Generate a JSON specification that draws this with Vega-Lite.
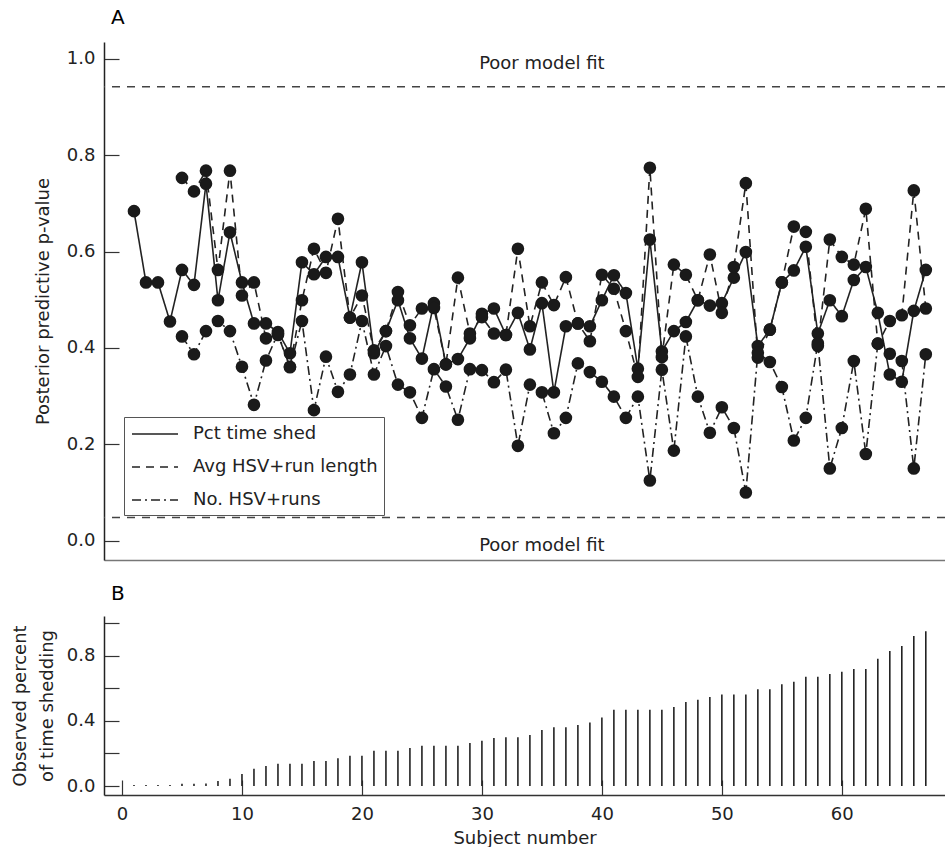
{
  "$schema": "https://vega.github.io/schema/vega-lite/v6.json",
  "padding": {"left": 11, "top": 8, "right": 0, "bottom": 0},
  "spacing": 24,
  "datasets": {
    "subj": [
      {"subject": 1, "pct": 0.684, "avg": null, "num": null, "shed": 0.006},
      {"subject": 2, "pct": 0.536, "avg": null, "num": null, "shed": 0.006},
      {"subject": 3, "pct": 0.536, "avg": null, "num": null, "shed": 0.006},
      {"subject": 4, "pct": 0.455, "avg": null, "num": null, "shed": 0.006},
      {"subject": 5, "pct": 0.562, "avg": 0.753, "num": 0.424, "shed": 0.014},
      {"subject": 6, "pct": 0.531, "avg": 0.725, "num": 0.387, "shed": 0.014},
      {"subject": 7, "pct": 0.741, "avg": 0.768, "num": 0.435, "shed": 0.016},
      {"subject": 8, "pct": 0.499, "avg": 0.562, "num": 0.456, "shed": 0.031},
      {"subject": 9, "pct": 0.640, "avg": 0.768, "num": 0.435, "shed": 0.045},
      {"subject": 10, "pct": 0.536, "avg": 0.509, "num": 0.361, "shed": 0.074},
      {"subject": 11, "pct": 0.451, "avg": 0.536, "num": 0.282, "shed": 0.106},
      {"subject": 12, "pct": 0.451, "avg": 0.420, "num": 0.374, "shed": 0.123},
      {"subject": 13, "pct": 0.433, "avg": 0.427, "num": 0.430, "shed": 0.137},
      {"subject": 14, "pct": 0.389, "avg": 0.361, "num": 0.360, "shed": 0.137},
      {"subject": 15, "pct": 0.578, "avg": 0.499, "num": 0.456, "shed": 0.137},
      {"subject": 16, "pct": 0.553, "avg": 0.606, "num": 0.271, "shed": 0.153},
      {"subject": 17, "pct": 0.589, "avg": 0.556, "num": 0.382, "shed": 0.153},
      {"subject": 18, "pct": 0.589, "avg": 0.668, "num": 0.309, "shed": 0.170},
      {"subject": 19, "pct": 0.463, "avg": 0.463, "num": 0.345, "shed": 0.186},
      {"subject": 20, "pct": 0.578, "avg": 0.509, "num": 0.456, "shed": 0.186},
      {"subject": 21, "pct": 0.389, "avg": 0.395, "num": 0.345, "shed": 0.217},
      {"subject": 22, "pct": 0.435, "avg": 0.435, "num": 0.404, "shed": 0.217},
      {"subject": 23, "pct": 0.499, "avg": 0.516, "num": 0.324, "shed": 0.217},
      {"subject": 24, "pct": 0.420, "avg": 0.447, "num": 0.308, "shed": 0.233},
      {"subject": 25, "pct": 0.378, "avg": 0.482, "num": 0.255, "shed": 0.247},
      {"subject": 26, "pct": 0.493, "avg": 0.483, "num": 0.356, "shed": 0.247},
      {"subject": 27, "pct": 0.366, "avg": 0.366, "num": 0.320, "shed": 0.247},
      {"subject": 28, "pct": 0.377, "avg": 0.546, "num": 0.251, "shed": 0.247},
      {"subject": 29, "pct": 0.420, "avg": 0.430, "num": 0.356, "shed": 0.264},
      {"subject": 30, "pct": 0.471, "avg": 0.464, "num": 0.354, "shed": 0.278},
      {"subject": 31, "pct": 0.482, "avg": 0.430, "num": 0.329, "shed": 0.294},
      {"subject": 32, "pct": 0.427, "avg": 0.427, "num": 0.355, "shed": 0.299},
      {"subject": 33, "pct": 0.473, "avg": 0.606, "num": 0.197, "shed": 0.299},
      {"subject": 34, "pct": 0.397, "avg": 0.445, "num": 0.324, "shed": 0.313},
      {"subject": 35, "pct": 0.493, "avg": 0.536, "num": 0.308, "shed": 0.344},
      {"subject": 36, "pct": 0.308, "avg": 0.489, "num": 0.223, "shed": 0.360},
      {"subject": 37, "pct": 0.445, "avg": 0.547, "num": 0.255, "shed": 0.360},
      {"subject": 38, "pct": 0.451, "avg": 0.451, "num": 0.368, "shed": 0.374},
      {"subject": 39, "pct": 0.445, "avg": 0.414, "num": 0.350, "shed": 0.389},
      {"subject": 40, "pct": 0.499, "avg": 0.552, "num": 0.330, "shed": 0.421},
      {"subject": 41, "pct": 0.551, "avg": 0.523, "num": 0.299, "shed": 0.468},
      {"subject": 42, "pct": 0.514, "avg": 0.435, "num": 0.255, "shed": 0.468},
      {"subject": 43, "pct": 0.357, "avg": 0.340, "num": 0.299, "shed": 0.468},
      {"subject": 44, "pct": 0.625, "avg": 0.774, "num": 0.125, "shed": 0.468},
      {"subject": 45, "pct": 0.393, "avg": 0.381, "num": 0.355, "shed": 0.468},
      {"subject": 46, "pct": 0.435, "avg": 0.573, "num": 0.187, "shed": 0.485},
      {"subject": 47, "pct": 0.454, "avg": 0.552, "num": 0.424, "shed": 0.515},
      {"subject": 48, "pct": 0.499, "avg": 0.499, "num": 0.299, "shed": 0.530},
      {"subject": 49, "pct": 0.488, "avg": 0.594, "num": 0.224, "shed": 0.546},
      {"subject": 50, "pct": 0.493, "avg": 0.473, "num": 0.277, "shed": 0.562},
      {"subject": 51, "pct": 0.546, "avg": 0.568, "num": 0.234, "shed": 0.562},
      {"subject": 52, "pct": 0.599, "avg": 0.742, "num": 0.100, "shed": 0.562},
      {"subject": 53, "pct": 0.404, "avg": 0.380, "num": 0.390, "shed": 0.593},
      {"subject": 54, "pct": 0.438, "avg": 0.438, "num": 0.371, "shed": 0.593},
      {"subject": 55, "pct": 0.536, "avg": 0.536, "num": 0.319, "shed": 0.624},
      {"subject": 56, "pct": 0.561, "avg": 0.652, "num": 0.208, "shed": 0.640},
      {"subject": 57, "pct": 0.610, "avg": 0.641, "num": 0.255, "shed": 0.671},
      {"subject": 58, "pct": 0.430, "avg": 0.404, "num": 0.410, "shed": 0.671},
      {"subject": 59, "pct": 0.499, "avg": 0.625, "num": 0.150, "shed": 0.687},
      {"subject": 60, "pct": 0.466, "avg": 0.589, "num": 0.234, "shed": 0.701},
      {"subject": 61, "pct": 0.541, "avg": 0.573, "num": 0.373, "shed": 0.718},
      {"subject": 62, "pct": 0.568, "avg": 0.689, "num": 0.180, "shed": 0.718},
      {"subject": 63, "pct": 0.473, "avg": 0.409, "num": 0.409, "shed": 0.781},
      {"subject": 64, "pct": 0.345, "avg": 0.456, "num": 0.388, "shed": 0.828},
      {"subject": 65, "pct": 0.330, "avg": 0.468, "num": 0.373, "shed": 0.859},
      {"subject": 66, "pct": 0.477, "avg": 0.727, "num": 0.150, "shed": 0.920},
      {"subject": 67, "pct": 0.562, "avg": 0.482, "num": 0.387, "shed": 0.949}
    ]
  },
  "vconcat": [
    {
      "width": 841,
      "height": 518,
      "title": {"text": "A", "anchor": "start", "frame": "group", "dx": 7, "fontSize": 20, "fontWeight": "normal", "offset": 14},
      "layer": [
        {
          "data": {"values": [{"cut": 0.942}, {"cut": 0.048}]},
          "mark": {"type": "rule", "strokeDash": [8, 7], "strokeWidth": 1.5, "color": "#444"},
          "encoding": {
            "y": {"field": "cut", "type": "quantitative", "scale": {"domain": [-0.04, 1.035], "nice": false, "zero": false}}
          }
        },
        {
          "data": {"values": [{"label": "Poor model fit", "x": 35, "y": 0.99}, {"label": "Poor model fit", "x": 35, "y": -0.01}]},
          "mark": {"type": "text", "fontSize": 18, "color": "#222"},
          "encoding": {
            "x": {"field": "x", "type": "quantitative"},
            "y": {"field": "y", "type": "quantitative"},
            "text": {"field": "label"}
          }
        },
        {
          "data": {"name": "subj"},
          "transform": [{"fold": ["pct", "avg", "num"], "as": ["series", "value"]}],
          "mark": {"type": "line", "color": "#222", "strokeWidth": 1.6},
          "encoding": {
            "x": {"field": "subject", "type": "quantitative"},
            "y": {"field": "value", "type": "quantitative"},
            "strokeDash": {
              "field": "series", "type": "nominal",
              "scale": {"domain": ["pct", "avg", "num"], "range": [[1, 0], [8, 6], [9, 4, 2, 4]]},
              "legend": {
                "title": null, "orient": "none", "legendX": 20, "legendY": 375,
                "labelExpr": "{'pct': 'Pct time shed', 'avg': 'Avg HSV+run length', 'num': 'No. HSV+runs'}[datum.label]",
                "symbolType": "M-2.3,0H2.3", "symbolSize": 400, "symbolStrokeWidth": 1.5, "symbolStrokeColor": "#222",
                "symbolOffset": 14,
                "labelFontSize": 18, "labelColor": "#222", "labelOffset": 27, "labelLimit": 400,
                "strokeColor": "#555", "fillColor": "white", "padding": 6, "rowPadding": 13
              }
            }
          }
        },
        {
          "data": {"name": "subj"},
          "transform": [{"fold": ["pct", "avg", "num"], "as": ["series", "value"]}],
          "mark": {"type": "point", "filled": true, "shape": "circle", "size": 160, "color": "#1a1a1a", "opacity": 1},
          "encoding": {
            "x": {"field": "subject", "type": "quantitative"},
            "y": {"field": "value", "type": "quantitative"}
          }
        }
      ],
      "encoding": {
        "x": {"type": "quantitative", "scale": {"domain": [-1.5, 68.6], "nice": false, "zero": false},
              "axis": {"title": null, "labels": false, "ticks": false, "domainColor": "#777", "domainWidth": 1.5}},
        "y": {"type": "quantitative",
              "axis": {"title": "Posterior predictive p-value", "values": [0, 0.2, 0.4, 0.6, 0.8, 1.0], "format": ".1f",
                       "tickSize": -15, "labelPadding": 24, "titlePadding": 14}}
      },
      "resolve": {"scale": {"x": "shared", "y": "shared"}}
    },
    {
      "width": 841,
      "height": 179,
      "title": {"text": "B", "anchor": "start", "frame": "group", "dx": 7, "fontSize": 20, "fontWeight": "normal", "offset": 12},
      "data": {"name": "subj"},
      "mark": {"type": "rule", "color": "#222", "strokeWidth": 1.6},
      "encoding": {
        "x": {"field": "subject", "type": "quantitative", "scale": {"domain": [-1.5, 68.6], "nice": false, "zero": false},
              "axis": {"title": "Subject number", "values": [0, 10, 20, 30, 40, 50, 60], "tickSize": -15, "labelPadding": 25, "domainColor": "#333", "titlePadding": 6}},
        "y": {"field": "shed", "type": "quantitative", "scale": {"domain": [-0.055, 1.043], "nice": false, "zero": false},
              "axis": {"title": ["Observed percent", "of time shedding"], "values": [0, 0.2, 0.4, 0.6, 0.8, 1.0],
                       "labelExpr": "round(datum.value * 10) % 4 == 0 ? format(datum.value, '.1f') : ''",
                       "tickSize": -15, "labelPadding": 24, "titlePadding": 10, "titleLineHeight": 27}},
        "y2": {"datum": 0}
      }
    }
  ],
  "config": {
    "font": "DejaVu Sans",
    "view": {"stroke": null},
    "axis": {"labelFontSize": 18, "titleFontSize": 18, "titleFontWeight": "normal", "labelColor": "#222", "titleColor": "#222",
             "domainColor": "#222", "tickColor": "#333", "grid": false, "domainWidth": 1.5, "tickWidth": 1.2}
  }
}
